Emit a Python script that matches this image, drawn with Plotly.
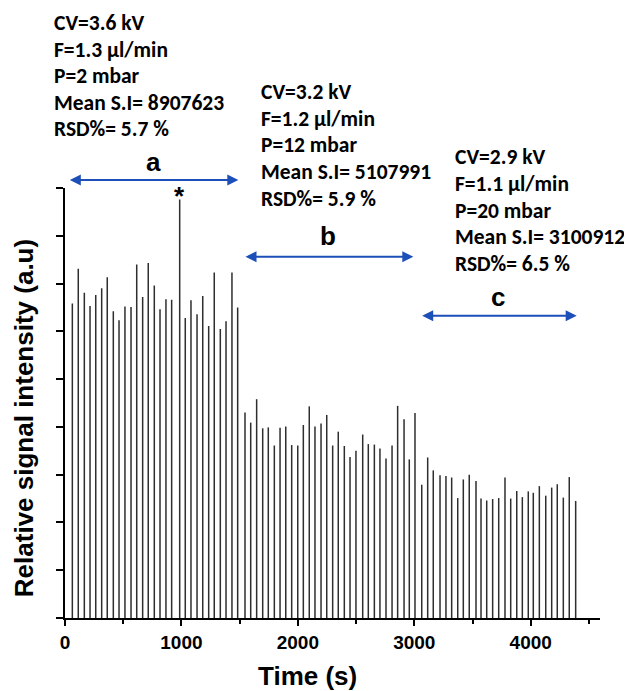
import plotly.graph_objects as go

# ---------------- data ----------------
time_s = [63, 114, 166, 215, 264, 315, 363, 415, 464, 515,
          567, 616, 667, 715, 767, 816, 867, 916, 985, 1033,
          1082, 1134, 1183, 1234, 1282, 1334, 1383, 1434, 1483, 1546,
          1595, 1646, 1698, 1746, 1798, 1847, 1896, 1947, 1999, 2047,
          2098, 2147, 2199, 2248, 2299, 2347, 2399, 2448, 2499, 2557,
          2605, 2657, 2705, 2757, 2809, 2857, 2912, 2957, 3006, 3064,
          3115, 3163, 3221, 3272, 3321, 3373, 3421, 3472, 3530, 3573,
          3622, 3673, 3725, 3779, 3828, 3880, 3928, 3979, 4022, 4074,
          4129, 4180, 4228, 4280, 4331, 4386]

intensity = [6.58, 7.31, 6.81, 6.53, 6.76, 6.90, 7.13, 6.42, 6.23, 6.52,
             6.51, 7.40, 6.72, 7.43, 6.96, 6.46, 6.67, 6.66, 8.76, 6.28,
             6.65, 6.36, 6.74, 6.11, 7.23, 6.05, 6.21, 7.23, 6.50,
             4.30, 4.09, 4.58, 3.97, 3.99, 3.61, 3.98, 4.01, 3.62, 3.61,
             4.04, 4.43, 4.01, 4.07, 4.25, 3.61, 3.90, 3.60, 3.37, 3.50,
             3.84, 3.64, 3.63, 3.55, 3.34, 3.61, 4.44, 4.16,
             3.32, 4.29, 2.79, 3.36, 3.09, 2.99, 2.97, 2.94, 2.51, 2.90,
             3.00, 2.87, 2.50, 2.46, 2.49, 2.51, 2.94, 2.50, 2.66, 2.53,
             2.65, 2.62, 2.76, 2.56, 2.73, 2.80, 2.52, 2.95, 2.45]

star_index = 18  # outlier spike marked with "*"

x_tick_vals = [0, 1000, 2000, 3000, 4000]
x_tick_text = ["0", "1000", "2000", "3000", "4000"]

block_a = ["CV=3.6 kV", "F=1.3 \u00b5l/min", "P=2 mbar", "Mean S.I= 8907623", "RSD%= 5.7 %"]
block_b = ["CV=3.2 kV", "F=1.2 \u00b5l/min", "P=12 mbar", "Mean S.I= 5107991", "RSD%= 5.9 %"]
block_c = ["CV=2.9 kV", "F=1.1 \u00b5l/min", "P=20 mbar", "Mean S.I= 3100912", "RSD%= 6.5 %"]

region_labels = ["a", "b", "c"]

# ---------------- geometry (page pixels of the reference) ----------------
OFF = 8                       # default body margin of the html page
W, H = 632 - OFF, 691 - OFF
PLOT_L, PLOT_R, PLOT_T, PLOT_B = 65, 600, 188, 617.7
L = PLOT_L - OFF
T = PLOT_T - OFF
R = W - (PLOT_R - OFF)
B = H - (PLOT_B - OFF)

def px(xp):
    return (xp - PLOT_L) / (PLOT_R - PLOT_L)

def py(yp):
    return (PLOT_B - yp) / (PLOT_B - PLOT_T)

# spikes drawn as vertical segments from baseline
xs, ys = [], []
for t, v in zip(time_s, intensity):
    xs += [t, t, None]
    ys += [0, v, None]

fig = go.Figure()
fig.add_trace(go.Scatter(x=xs, y=ys, mode="lines",
                         line=dict(color="#2e2e2e", width=1.5),
                         hoverinfo="skip", showlegend=False))

arial_b = dict(family="Liberation Sans, Arial, sans-serif", color="black", weight="bold")
calibri_b = dict(family="Carlito, Lato, sans-serif", color="black", weight="bold", size=21.5)

annotations = []
# condition text blocks (left x, first-line centre y, in page pixels)
for lines, (x0, y0) in zip([block_a, block_b, block_c], [(52, 23.5), (259, 92.5), (453, 157.5)]):
    for i, s in enumerate(lines):
        annotations.append(dict(xref="paper", yref="paper", x=px(x0), y=py(y0 + i * 26.5),
                                text=s, showarrow=False, xanchor="left", yanchor="middle",
                                font=calibri_b))

arrow_blue = "#1d4fb8"
arrow_geo = [((68.3, 238.3), 180.0, (153, 162.5)),
             ((244.0, 413.3), 256.7, (328, 236.0)),
             ((420.7, 576.7), 315.7, (498, 297.0))]
for lab, ((x0, x1), yy, (lx, ly)) in zip(region_labels, arrow_geo):
    annotations.append(dict(xref="paper", yref="paper", x=px(x1), y=py(yy),
                            ax=-(x1 - x0), ay=0, text="",
                            showarrow=True, arrowside="end+start", arrowhead=2,
                            arrowsize=1.1, arrowwidth=2, arrowcolor=arrow_blue,
                            standoff=0, startstandoff=0))
    annotations.append(dict(xref="paper", yref="paper", x=px(lx), y=py(ly),
                            text=lab, showarrow=False, xanchor="center", yanchor="middle",
                            font=dict(arial_b, size=26)))

# asterisk above the outlier spike
annotations.append(dict(xref="x", yref="y", x=time_s[star_index], y=intensity[star_index],
                        text="*", showarrow=False, yanchor="middle", yshift=3,
                        font=dict(arial_b, size=26)))

# axis titles
annotations.append(dict(xref="paper", yref="paper", x=px(307), y=py(676),
                        text="Time (s)", showarrow=False, xanchor="center", yanchor="middle",
                        font=dict(arial_b, size=26)))
annotations.append(dict(xref="paper", yref="paper", x=px(24), y=py(418),
                        text="Relative signal intensity (a.u)", showarrow=False,
                        textangle=-90, xanchor="center", yanchor="middle",
                        font=dict(arial_b, size=26)))

fig.update_layout(
    width=W, height=H, autosize=False,
    margin=dict(l=L, r=R, t=T, b=B),
    paper_bgcolor="white", plot_bgcolor="white",
    annotations=annotations,
    showlegend=False,
)

fig.update_xaxes(range=[0, 4595], showgrid=False, zeroline=False,
                 showline=True, linecolor="black", linewidth=2,
                 ticks="outside", ticklen=6, tickwidth=2, tickcolor="black",
                 tickvals=x_tick_vals, ticktext=x_tick_text,
                 tickfont=dict(arial_b, size=19),
                 minor=dict(ticks="outside", ticklen=4, tickwidth=1.5, tickcolor="black", dtick=500, tick0=0))
fig.update_yaxes(range=[0, 9], showgrid=False, zeroline=False,
                 showline=True, linecolor="black", linewidth=2,
                 ticks="outside", ticklen=7, tickwidth=2, tickcolor="black",
                 dtick=1, tick0=0, showticklabels=False)

fig.write_html("out.html")
